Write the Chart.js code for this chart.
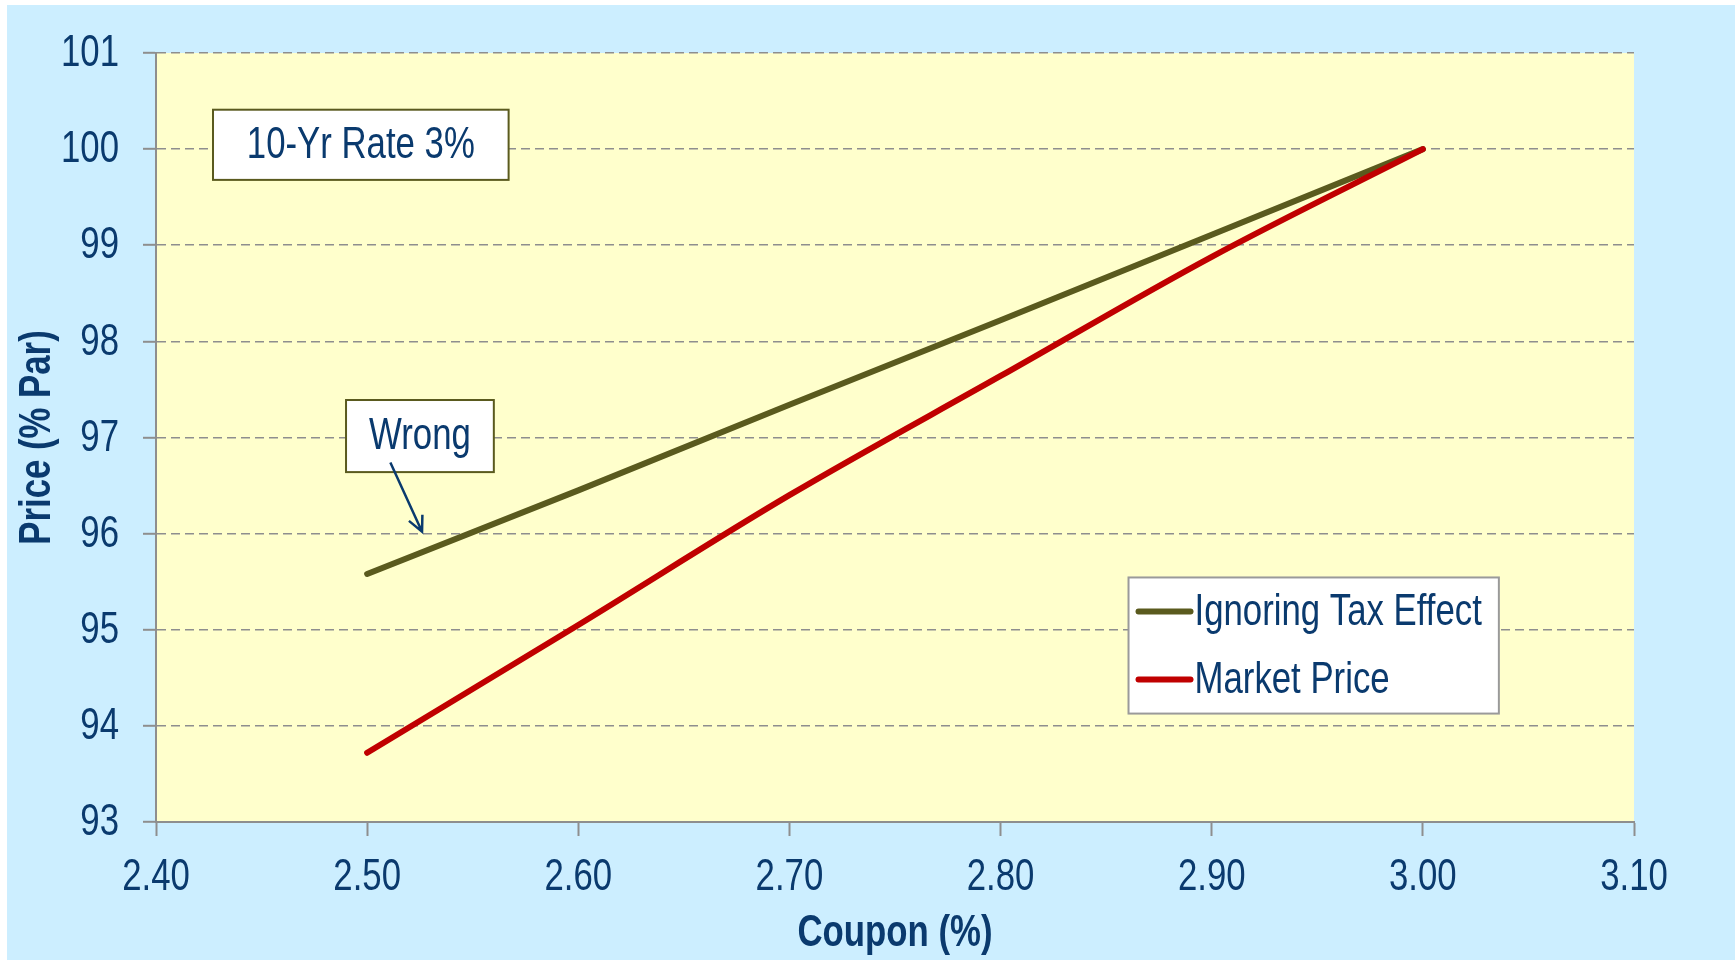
<!DOCTYPE html>
<html>
<head>
<meta charset="utf-8">
<script src="https://cdn.jsdelivr.net/npm/chart.js@4"></script>
<style>
  html, body { margin: 0; padding: 0; background: #ffffff; }
  #wrap { position: absolute; left: 7px; top: 5px; width: 1728px; height: 955px; }
</style>
</head>
<body>
<div id="wrap"><canvas id="price-chart" width="1728" height="955"></canvas></div>
<script>
// Price vs coupon, 10-yr rate 3%

const coupons = [2.50, 2.60, 2.70, 2.80, 2.90, 3.00]
const ignoringTax = [95.58, 96.45, 97.34, 98.22, 99.11, 100.00]
const marketPrice = [93.72, 95.05, 96.40, 97.64, 98.88, 100.00]
const seriesNames = ['Ignoring Tax Effect', 'Market Price']
const seriesColors = ['#5a5a1e', '#c00000']
const xTitle = 'Coupon (%)'
const yTitle = 'Price (% Par)'

// no Arial Narrow here, so squeeze Liberation Sans by hand
const FONT = "'Liberation Sans', Arial, sans-serif"
const SIZE = 44
const NARROW = 0.79
const NAVY = '#0a3a6e'
const GRID = '#8e8e8e'

function toPoints(xs, ys) {
    return xs.map((x, i) => ({x: x, y: ys[i]}))
}

function narrowText(ctx, text, x, y, align, bold, angle) {
    ctx.save()
    ctx.translate(x, y)
    if (angle) ctx.rotate(angle)
    ctx.scale(NARROW, 1)
    ctx.font = (bold ? 'bold ' : '') + SIZE + 'px ' + FONT
    ctx.textAlign = align
    ctx.textBaseline = 'middle'
    ctx.fillStyle = NAVY
    ctx.fillText(text, 0, 0)
    ctx.restore()
}

// yellow plot area
const plotBackground = {
    id: 'plotBackground',
    beforeDraw(chart) {
        const {ctx, chartArea} = chart
        ctx.save()
        ctx.fillStyle = '#ffffcc'
        ctx.fillRect(chartArea.left, chartArea.top, chartArea.right - chartArea.left, chartArea.bottom - chartArea.top)
        ctx.restore()
    }
}

// tick labels + axis titles, drawn from the scales
const axisText = {
    id: 'axisText',
    afterDraw(chart) {
        const {ctx, chartArea} = chart
        const xs = chart.scales.x, ys = chart.scales.y
        xs.ticks.forEach(t => {
            narrowText(ctx, t.value.toFixed(2), xs.getPixelForValue(t.value), 873, 'center', false)
        })
        ys.ticks.forEach(t => {
            narrowText(ctx, String(Math.round(t.value)), 112, ys.getPixelForValue(t.value) + 1, 'right', false)
        })
        narrowText(ctx, xTitle, (chartArea.left + chartArea.right) / 2, 929, 'center', true)
        narrowText(ctx, yTitle, 31, (chartArea.top + chartArea.bottom) / 2, 'center', true, -Math.PI / 2)
    }
}

function textBox(ctx, text, x0, y0, x1, y1) {
    ctx.fillStyle = '#ffffff'
    ctx.fillRect(x0, y0, x1 - x0, y1 - y0)
    ctx.strokeStyle = '#5a5a1e'
    ctx.lineWidth = 2
    ctx.strokeRect(x0, y0, x1 - x0, y1 - y0)
    narrowText(ctx, text, (x0 + x1) / 2, (y0 + y1) / 2 + 1, 'center', false)
}

// callouts + legend box inside the plot
const overlays = {
    id: 'overlays',
    afterDatasetsDraw(chart) {
        const {ctx} = chart
        const xs = chart.scales.x, ys = chart.scales.y
        const px = v => xs.getPixelForValue(v)
        const py = v => ys.getPixelForValue(v)
        ctx.save()

        textBox(ctx, '10-Yr Rate 3%', px(2.427), py(100.41), px(2.567), py(99.68))
        textBox(ctx, 'Wrong', px(2.490), py(97.39), px(2.560), py(96.64))

        // arrow from "Wrong" to the olive line
        const ax0 = px(2.511), ay0 = py(96.74), ax1 = px(2.526), ay1 = py(96.02)
        ctx.strokeStyle = NAVY
        ctx.lineWidth = 2.5
        ctx.beginPath()
        ctx.moveTo(ax0, ay0)
        ctx.lineTo(ax1, ay1)
        const ang = Math.atan2(ay1 - ay0, ax1 - ax0)
        ctx.moveTo(ax1 - 17 * Math.cos(ang - 0.45), ay1 - 17 * Math.sin(ang - 0.45))
        ctx.lineTo(ax1, ay1)
        ctx.lineTo(ax1 - 17 * Math.cos(ang + 0.45), ay1 - 17 * Math.sin(ang + 0.45))
        ctx.stroke()

        // legend
        const lx0 = px(2.8606), lx1 = px(3.036), ly0 = py(95.544), ly1 = py(94.128)
        ctx.fillStyle = '#ffffff'
        ctx.fillRect(lx0, ly0, lx1 - lx0, ly1 - ly0)
        ctx.strokeStyle = '#9a9a9a'
        ctx.lineWidth = 2
        ctx.strokeRect(lx0, ly0, lx1 - lx0, ly1 - ly0)
        chart.data.datasets.forEach((ds, i) => {
            const rowY = ly0 + 34 + i * 68
            ctx.strokeStyle = ds.borderColor
            ctx.lineWidth = 6
            ctx.lineCap = 'round'
            ctx.beginPath()
            ctx.moveTo(lx0 + 10, rowY)
            ctx.lineTo(lx0 + 62, rowY)
            ctx.stroke()
            narrowText(ctx, ds.label, lx0 + 66, rowY + 1, 'left', false)
        })
        ctx.restore()
    }
}

new Chart(
    document.getElementById('price-chart'),
    {
        type: 'line',
        data: {
            datasets: [
                {
                    label: seriesNames[0],
                    data: toPoints(coupons, ignoringTax),
                    borderColor: seriesColors[0],
                    borderWidth: 6,
                    pointRadius: 0,
                    borderCapStyle: 'round',
                    order: 2
                },
                {
                    label: seriesNames[1],
                    data: toPoints(coupons, marketPrice),
                    borderColor: seriesColors[1],
                    borderWidth: 6,
                    pointRadius: 0,
                    borderCapStyle: 'round',
                    cubicInterpolationMode: 'monotone',
                    order: 1
                }
            ]
        },
        options: {
            responsive: false,
            animation: false,
            layout: {padding: {left: 0, top: 48, right: 101, bottom: 0}},
            plugins: {
                legend: {display: false},
                tooltip: {enabled: false}
            },
            scales: {
                x: {
                    type: 'linear',
                    min: 2.4,
                    max: 3.1,
                    afterFit: s => { s.height = 138 },
                    ticks: {stepSize: 0.1, display: false},
                    grid: {drawOnChartArea: false, tickLength: 14, tickColor: GRID, tickWidth: 2},
                    border: {color: GRID, width: 2}
                },
                y: {
                    min: 93,
                    max: 101,
                    afterFit: s => { s.width = 149 },
                    ticks: {stepSize: 1, display: false},
                    grid: {
                        color: GRID,
                        lineWidth: 1.6,
                        tickLength: 13,
                        tickColor: GRID,
                        tickWidth: 2,
                        tickBorderDash: []
                    },
                    border: {color: GRID, width: 2, dash: [9, 5]}
                }
            }
        },
        plugins: [plotBackground, overlays, axisText]
    }
)
document.getElementById('price-chart').style.background = '#cceeff'
</script>
</body>
</html>
